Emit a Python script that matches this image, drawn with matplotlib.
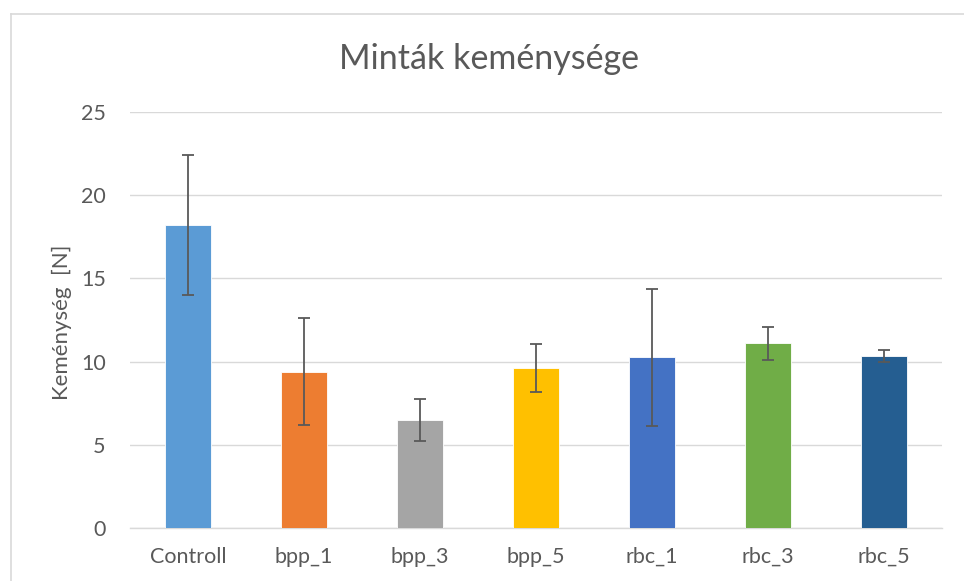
import matplotlib
matplotlib.use("Agg")
import matplotlib.pyplot as plt
from matplotlib.lines import Line2D

categories = ["Controll", "bpp_1", "bpp_3", "bpp_5", "rbc_1", "rbc_3", "rbc_5"]
values = [18.2, 9.4, 6.5, 9.6, 10.25, 11.1, 10.35]
errors = [4.2, 3.2, 1.25, 1.45, 4.1, 1.0, 0.35]
colors = ["#5B9BD5", "#ED7D31", "#A5A5A5", "#FFC000", "#4472C4", "#70AD47", "#255E91"]
yticks = [0, 5, 10, 15, 20, 25]

plt.rcParams['font.family'] = ['Lato', 'DejaVu Sans']

W, H = 964, 581
fig = plt.figure(figsize=(W / 100, H / 100), dpi=100)
fig.patch.set_facecolor("white")

ax = fig.add_axes([130 / W, 1 - 528 / H, (942 - 130) / W, (528 - 112) / H])
x = list(range(len(categories)))
ax.bar(x, values, width=0.4, color=colors, edgecolor="white", linewidth=0.6, zorder=3)
ax.errorbar(x, values, yerr=errors, fmt="none", ecolor="#595959", elinewidth=1.3,
            capsize=4.5, capthick=1.3, zorder=4)

ax.set_xlim(-0.5, len(categories) - 0.5)
ax.set_ylim(0, 25)
ax.set_yticks(yticks)
ax.set_xticks(x)
ax.set_xticklabels(categories)
ax.yaxis.grid(True, color="#D9D9D9", linewidth=1.0, zorder=0)
ax.set_axisbelow(True)
for s in ["top", "right", "left"]:
    ax.spines[s].set_visible(False)
ax.spines["bottom"].set_color("#D9D9D9")
ax.spines["bottom"].set_linewidth(1.0)
ax.tick_params(axis="both", length=0, colors="#595959", labelsize=15.5)
ax.tick_params(axis="y", pad=17.5)
ax.tick_params(axis="x", pad=13.5)

fig.text(62 / W, 1 - 322 / H, "Keménység  [N]", rotation=90, ha="center", va="center",
         color="#595959", fontsize=16)
fig.text(489 / W, 1 - 69 / H, "Minták keménysége", ha="center", va="baseline",
         fontsize=24.5, color="#595959")

# outer chart border
fig.add_artist(Line2D([11 / W, 11 / W], [0, 1 - 14 / H], transform=fig.transFigure,
                      color="#D9D9D9", linewidth=1.2))
fig.add_artist(Line2D([11 / W, 1], [1 - 14 / H, 1 - 14 / H], transform=fig.transFigure,
                      color="#D9D9D9", linewidth=1.2))

fig.savefig("out.png", dpi=100, facecolor="white")
